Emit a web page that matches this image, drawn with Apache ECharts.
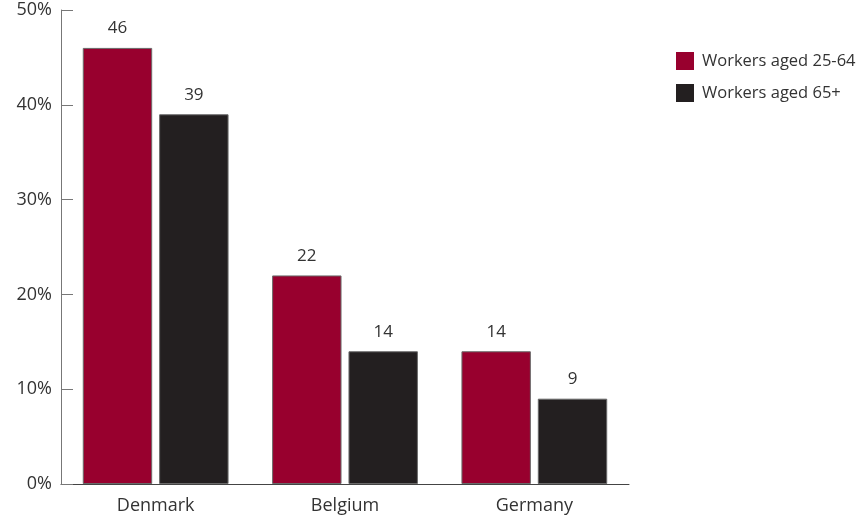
<!DOCTYPE html>
<html>
<head>
<meta charset="utf-8">
<script src="https://cdn.jsdelivr.net/npm/echarts@6/dist/echarts.min.js"></script>
<style>
  html, body { margin: 0; padding: 0; background: #fff; }
  #chart { width: 865px; height: 519px; }
</style>
</head>
<body>
<div id="chart"></div>
<script>
const countries = ['Denmark', 'Belgium', 'Germany']
const seriesNames = ['Workers aged 25-64', 'Workers aged 65+']
const aged25to64 = [46, 22, 14]
const aged65plus = [39, 14, 9]
const yTicks = [0, 10, 20, 30, 40, 50]

const chart = echarts.init(document.getElementById('chart'))

const labelStyle = {
  show: true,
  position: 'top',
  distance: 11,
  fontFamily: 'Open Sans',
  fontSize: 17,
  color: '#333'
}

const option = {
  animation: false,
  textStyle: { fontFamily: 'Open Sans' },
  grid: { left: 61, right: 236, top: 10, bottom: 35 },
  legend: {
    orient: 'vertical',
    left: 671,
    top: 47,
    itemWidth: 18,
    itemHeight: 18,
    itemGap: 14,
    icon: 'rect',
    itemStyle: { borderWidth: 0 },
    textStyle: { fontSize: 16.5, color: '#333', padding: [0, 0, 0, 3] },
    data: seriesNames
  },
  xAxis: {
    type: 'category',
    data: countries,
    axisLine: { lineStyle: { color: '#444', width: 1 } },
    axisTick: { inside: true, length: 12, lineStyle: { color: '#444' } },
    axisLabel: { fontSize: 18, color: '#333', margin: 13 }
  },
  yAxis: {
    type: 'value',
    min: yTicks[0],
    max: yTicks[yTicks.length - 1],
    interval: 10,
    splitLine: { show: false },
    axisLine: { show: true, lineStyle: { color: '#777', width: 1 } },
    axisTick: { show: true, inside: true, length: 12, lineStyle: { color: '#777' } },
    axisLabel: { fontSize: 18, color: '#333', margin: 9, formatter: '{value}%' }
  },
  series: [
    {
      name: seriesNames[0],
      type: 'bar',
      data: aged25to64,
      barGap: '10%',
      barCategoryGap: '23%',
      itemStyle: { color: '#98002E', borderColor: '#6a6a6a', borderWidth: 1 },
      label: labelStyle
    },
    {
      name: seriesNames[1],
      type: 'bar',
      data: aged65plus,
      itemStyle: { color: '#231F20', borderColor: '#6a6a6a', borderWidth: 1 },
      label: labelStyle
    }
  ]
}

chart.setOption(option)
</script>
</body>
</html>
